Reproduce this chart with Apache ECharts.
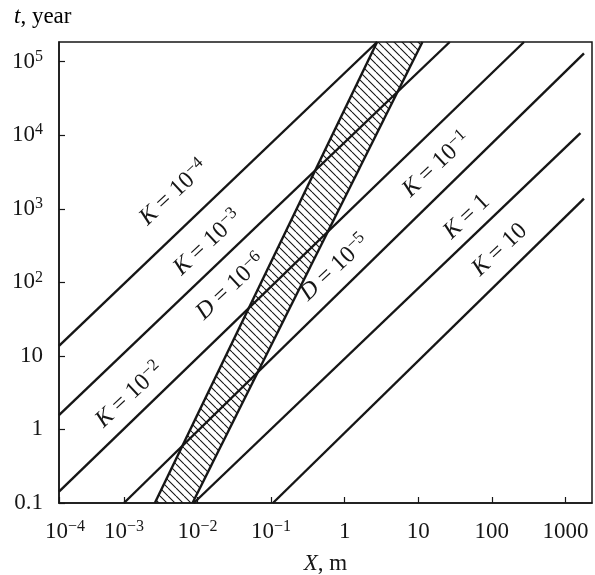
<!DOCTYPE html>
<html>
<head>
<meta charset="utf-8">
<script src="https://cdn.jsdelivr.net/npm/echarts@6/dist/echarts.min.js"></script>
<style>
  html, body { margin: 0; padding: 0; background: #fff; }
  #main { width: 595px; height: 575px; }
</style>
</head>
<body>
<div id="main"></div>
<script>
// axis extents (X in m, t in years)
const xMin = 1.31e-4, xMax = 2300;
const yMin = 0.1, yMax = 1.85e5;

// K lines: start and end points
const kLabels = ['10^-4', '10^-3', '10^-2', '10^-1', '1', '10'];
const kStart = [[1.31e-4, 13.7], [1.31e-4, 1.57], [1.31e-4, 0.143], [1.0e-3, 0.1], [0.0089, 0.1], [0.106, 0.1]];
const kEnd = [[2.76, 1.85e5], [26.8, 1.85e5], [274, 1.85e5], [1790, 1.3e5], [1600, 1.07e4], [1790, 1370]];
const kLabelAt = [[0.00476, 1650], [0.0138, 344], [0.00120, 2.94], [17.8, 3970], [45.6, 778], [128, 277]];

// D lines (edges of the hatched band)
const dLabels = ['10^-6', '10^-5'];
const dStart = [[0.00263, 0.1], [0.00855, 0.1]];
const dEnd = [[2.76, 1.85e5], [11.4, 1.85e5]];
const dLabelAt = [[0.0283, 86.9], [0.734, 157]];

const ink = '#161616';
const serif = 'Liberation Serif';

// tick / title text
const richStyles = {
  b: { fontFamily: serif, fontSize: 23, lineHeight: 26, color: ink, verticalAlign: 'middle' },
  bmin: { fontFamily: serif, fontSize: 23, lineHeight: 26, color: ink, verticalAlign: 'middle', padding: [0, 0, 0, 12] },
  i: { fontFamily: serif, fontSize: 23, lineHeight: 26, color: ink, fontStyle: 'italic', verticalAlign: 'middle' },
  s: { fontFamily: serif, fontSize: 16, lineHeight: 12, color: ink, verticalAlign: 'top' }
};
// labels inside the plot
const richIn = {
  b: { fontFamily: serif, fontSize: 24, lineHeight: 28, color: ink, verticalAlign: 'middle' },
  i: { fontFamily: serif, fontSize: 24, lineHeight: 28, color: ink, fontStyle: 'italic', verticalAlign: 'middle' },
  s: { fontFamily: serif, fontSize: 17, lineHeight: 13, color: ink, verticalAlign: 'top' }
};

function powText(str, base) {
  const parts = str.split('^');
  const b = base || 'b';
  if (parts.length < 2) return '{' + b + '|' + parts[0] + '}';
  return '{' + b + '|' + parts[0] + '}{s|' + parts[1].replace('-', '−') + '}';
}

// diagonal hatch tile
function hatchTile() {
  const s = 8;
  const c = document.createElement('canvas');
  c.width = s; c.height = s;
  const g = c.getContext('2d');
  g.strokeStyle = ink;
  g.lineWidth = 1.1;
  g.beginPath();
  for (let k = -1; k <= 1; k++) {
    g.moveTo(k * s, 0);
    g.lineTo(k * s + s, s);
  }
  g.stroke();
  return c;
}
const hatch = hatchTile();

const series = [];

series.push({
  type: 'custom',
  coordinateSystem: 'cartesian2d',
  data: [0],
  z: 1,
  silent: true,
  renderItem: function (params, api) {
    const pts = [dStart[0], dEnd[0], dEnd[1], dStart[1]].map(p => api.coord(p));
    return {
      type: 'polygon',
      shape: { points: pts },
      style: { fill: { image: hatch, repeat: 'repeat' }, stroke: null }
    };
  }
});

kStart.forEach((p, i) => {
  series.push({
    type: 'line', data: [p, kEnd[i]], showSymbol: false, z: 3, silent: true,
    lineStyle: { color: ink, width: 2.4 }
  });
});
dStart.forEach((p, i) => {
  series.push({
    type: 'line', data: [p, dEnd[i]], showSymbol: false, z: 3, silent: true,
    lineStyle: { color: ink, width: 2.4 }
  });
});

const labelData = kLabelAt.map((p, i) => ({ value: p, text: '{i|K}{b| = }' + powText(kLabels[i]) }))
  .concat(dLabelAt.map((p, i) => ({ value: p, text: '{i|D}{b| = }' + powText(dLabels[i]) })));

series.push({
  type: 'scatter',
  data: labelData,
  symbolSize: 0,
  z: 4,
  silent: true,
  itemStyle: { color: ink, opacity: 1 },
  label: {
    show: true,
    position: 'inside',
    rotate: 43,
    color: ink,
    textBorderWidth: 0,
    formatter: p => p.data.text,
    rich: richIn
  }
});

const option = {
  animation: false,
  backgroundColor: '#fff',
  grid: {
    left: 59, right: 3, top: 42, bottom: 72, show: true, borderColor: ink, borderWidth: 1.5,
    outerBoundsMode: 'none'
  },
  xAxis: {
    type: 'log', logBase: 10, min: xMin, max: xMax, splitNumber: 10,
    axisLine: { lineStyle: { color: ink, width: 1.5 } },
    axisTick: { inside: true, length: 6, lineStyle: { color: ink, width: 1.2 } },
    splitLine: { show: false },
    axisLabel: {
      margin: 16, showMinLabel: true, showMaxLabel: false,
      formatter: function (v) {
        const e = Math.round(Math.log10(v));
        if (e >= 0) return '{b|' + Math.pow(10, e) + '}';
        return powText('10^-' + (-e), v < 5e-4 ? 'bmin' : 'b');
      },
      rich: richStyles
    },
    name: '{i|X}{b|, m}', nameLocation: 'middle', nameGap: 48,
    nameTextStyle: { rich: richStyles }
  },
  yAxis: {
    type: 'log', logBase: 10, min: yMin, max: yMax, splitNumber: 10,
    axisLine: { lineStyle: { color: ink, width: 1.5 } },
    axisTick: { inside: true, length: 6, lineStyle: { color: ink, width: 1.2 } },
    splitLine: { show: false },
    axisLabel: {
      margin: 16, showMinLabel: true, showMaxLabel: false,
      formatter: function (v) {
        const e = Math.round(Math.log10(v));
        if (e === -1) return '{b|0.1}';
        if (e === 0) return '{b|1}';
        if (e === 1) return '{b|10}';
        return powText('10^' + e);
      },
      rich: richStyles
    }
  },
  graphic: [{
    type: 'text', left: 14, top: 5,
    style: { text: '{i|t}{b|, year}', rich: richStyles }
  }],
  series: series
};

const myChart = echarts.init(document.getElementById('main'));
myChart.setOption(option);
window.onresize = function () { myChart.resize(); };
</script>
</body>
</html>
